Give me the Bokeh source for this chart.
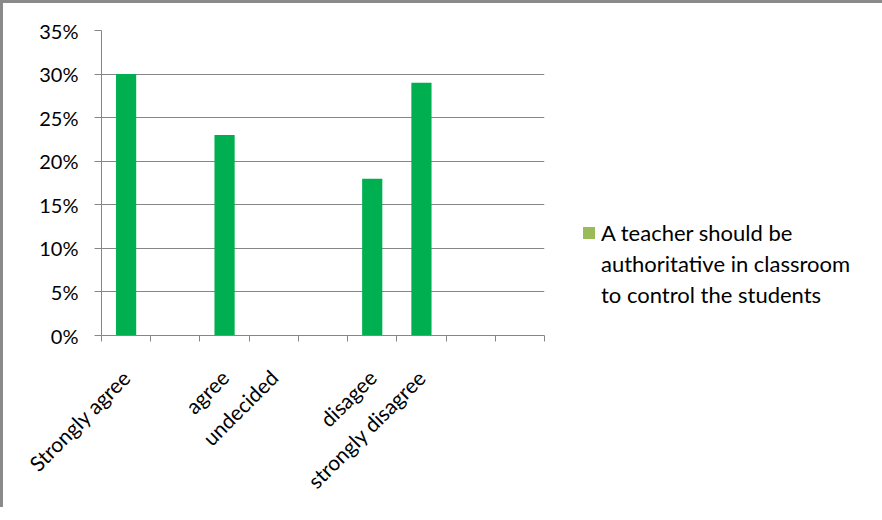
from math import pi
import numpy as np
from bokeh.plotting import figure
from bokeh.models import Range1d, FixedTicker, NumeralTickFormatter, Legend, LegendItem
from bokeh.embed import file_html
from bokeh.resources import INLINE

# ---- data ----
categories = ["Strongly agree", "", "agree", "undecided", "", "disagee",
              "strongly disagree", "", ""]
values = [0.30, 0.0, 0.23, 0.0, 0.0, 0.18, 0.29, 0.0, 0.0]
y_ticks = [0.0, 0.05, 0.10, 0.15, 0.20, 0.25, 0.30, 0.35]
series_lines = ["A teacher should be", "authoritative in classroom",
                "to control the students"]

BAR = "#00B050"
LEG = "#9BBB59"
GRID = "#868686"
FONT = "Lato"

n = len(categories)
centers = list(np.arange(n) + 0.5)
bounds = list(range(n + 1))

p = figure(frame_width=443, frame_height=305, output_backend="svg", toolbar_location=None,
           x_range=Range1d(0, n), y_range=Range1d(0, y_ticks[-1]),
           min_border_left=98, min_border_top=27, min_border_right=0,
           min_border_bottom=172)
p.styles = {"border-left": "3px solid #8a8a8a", "border-top": "3px solid #8a8a8a"}
p.outline_line_color = None
p.background_fill_color = "white"
p.border_fill_color = "white"

bars = p.vbar(x=centers, top=values, width=0.41, color=BAR, line_color=None)
# legend swatch renderers (zero-height, nothing visible in the plot)
leg_r = p.vbar(x=centers[:1], top=[0], width=0.41, fill_color=LEG, line_color=None)
blank_r = p.vbar(x=centers[:1], top=[0], width=0.41, fill_alpha=0, line_color=None)

# x axis
p.xaxis.ticker = FixedTicker(ticks=centers, minor_ticks=bounds)
p.xaxis.major_label_overrides = {float(c): lab for c, lab in zip(centers, categories)}
p.xaxis.major_tick_line_color = None
p.xaxis.minor_tick_line_color = GRID
p.xaxis.minor_tick_out = 6
p.xaxis.minor_tick_in = 0
p.xaxis.axis_line_color = GRID
p.xaxis.major_label_orientation = pi / 4
p.xaxis.major_label_text_font = FONT
p.xaxis.major_label_text_font_size = "21px"
p.xaxis.major_label_text_color = "black"
p.xaxis.major_label_standoff = 32

# y axis
p.yaxis.ticker = FixedTicker(ticks=y_ticks)
p.yaxis.formatter = NumeralTickFormatter(format="0%")
p.yaxis.major_tick_out = 7
p.yaxis.major_tick_in = 0
p.yaxis.minor_tick_line_color = None
p.yaxis.major_tick_line_color = GRID
p.yaxis.axis_line_color = GRID
p.yaxis.major_label_text_font = FONT
p.yaxis.major_label_text_font_size = "20px"
p.yaxis.major_label_text_color = "black"
p.yaxis.major_label_standoff = 16

p.xgrid.grid_line_color = None
p.ygrid.grid_line_color = GRID
p.ygrid.ticker = FixedTicker(ticks=y_ticks)

items = [LegendItem(label=series_lines[0], renderers=[leg_r])] + \
        [LegendItem(label=t, renderers=[blank_r]) for t in series_lines[1:]]
legend = Legend(items=items, location=(37, 27), glyph_width=15, glyph_height=15,
                label_text_font=FONT, label_text_font_size="22px",
                label_text_color="black", label_standoff=5, label_height=15,
                border_line_color=None, background_fill_alpha=0,
                padding=0, margin=0, spacing=4)
p.add_layout(legend, "right")

open("out.html", "w").write(file_html(p, INLINE))
